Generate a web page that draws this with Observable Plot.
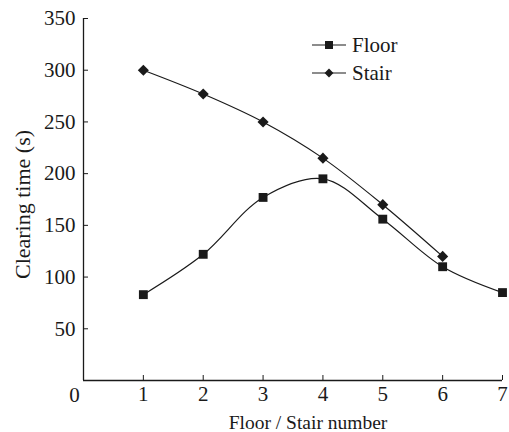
<!DOCTYPE html>
<html>
<head>
<meta charset="utf-8">
<script src="https://cdn.jsdelivr.net/npm/d3@7"></script>
<script src="https://cdn.jsdelivr.net/npm/@observablehq/plot@0.6"></script>
<style>
  body { margin: 0; background: #fff; }
  #wrap { position: relative; width: 509px; height: 432px; font-family: "Liberation Serif", "DejaVu Serif", serif; }
  #legend { position: absolute; left: 312px; top: 31px; font-size: 21px; color: #1a1a1a; }
  #legend .row { display: flex; align-items: center; height: 28px; }
  #legend svg { margin-right: 6px; }
</style>
</head>
<body>
<div id="wrap"></div>
<script>
const floorNum = [1, 2, 3, 4, 5, 6, 7];
const floorTime = [83, 122, 177, 195, 156, 110, 85];
const stairNum = [1, 2, 3, 4, 5, 6];
const stairTime = [300, 277, 250, 215, 170, 120];
const seriesNames = ["Floor", "Stair"];
const seriesSymbols = ["square", "diamond2"];
const xTicks = [1, 2, 3, 4, 5, 6, 7];
const yTicks = [50, 100, 150, 200, 250, 300, 350];
const xLabel = "Floor / Stair number";
const yLabel = "Clearing time (s)";

const floorData = floorNum.map((x, i) => ({x, y: floorTime[i]}));
const stairData = stairNum.map((x, i) => ({x, y: stairTime[i]}));
const ink = "#1a1a1a";
const fs = 21;

const chart = Plot.plot({
  width: 509,
  height: 432,
  marginLeft: 83,
  marginRight: 7,
  marginTop: 18,
  marginBottom: 52,
  style: {fontFamily: "'Liberation Serif', serif", fontSize: fs + "px", color: ink, background: "#fff"},
  x: {domain: [0, 7]},
  y: {domain: [0, 350]},
  marks: [
    Plot.ruleX([0], {y1: 0, y2: 350, stroke: ink, strokeWidth: 1.3}),
    Plot.ruleY([0], {x1: 0, x2: 7, stroke: ink, strokeWidth: 1.3}),
    Plot.axisY(yTicks, {tickSize: -5, tickPadding: 13, stroke: ink, label: null, fontSize: fs, fill: ink}),
    Plot.axisX(xTicks, {tickSize: -5, tickPadding: 11, stroke: ink, label: null, fontSize: fs, fill: ink}),
    Plot.text([0], {x: d => d, y: 0, text: d => String(d), dx: -9, dy: 15, fontSize: fs, fill: ink}),
    Plot.text([yLabel], {frameAnchor: "left", rotate: -90, textAnchor: "middle", lineAnchor: "middle", dx: -61, dy: 5, fontSize: 22, fill: ink}),
    Plot.text([xLabel], {frameAnchor: "bottom", textAnchor: "middle", lineAnchor: "middle", dx: 15, dy: 42, fontSize: 19.5, fill: ink}),
    Plot.line(floorData, {x: "x", y: "y", curve: "catmull-rom", stroke: ink, strokeWidth: 1.2}),
    Plot.line(stairData, {x: "x", y: "y", curve: "catmull-rom", stroke: ink, strokeWidth: 1.2}),
    Plot.dot(floorData, {x: "x", y: "y", symbol: seriesSymbols[0], r: 5, fill: ink, stroke: "none"}),
    Plot.dot(stairData, {x: "x", y: "y", symbol: seriesSymbols[1], r: 5, fill: ink, stroke: "none"})
  ]
});
const wrap = document.getElementById("wrap");
wrap.appendChild(chart);

const legend = document.createElement("div");
legend.id = "legend";
seriesNames.forEach((name, i) => {
  const row = document.createElement("div");
  row.className = "row";
  const sym = d3.symbol(i === 0 ? d3.symbolSquare : d3.symbolDiamond2, Math.PI * 25)();
  row.innerHTML = `<svg width="34" height="14"><line x1="0" x2="34" y1="7" y2="7" stroke="${ink}" stroke-width="1.2"/><path transform="translate(17,7) scale(${i === 0 ? 0.9 : 0.8})" d="${sym}" fill="${ink}"/></svg><span>${name}</span>`;
  legend.appendChild(row);
});
wrap.appendChild(legend);
</script>
</body>
</html>
